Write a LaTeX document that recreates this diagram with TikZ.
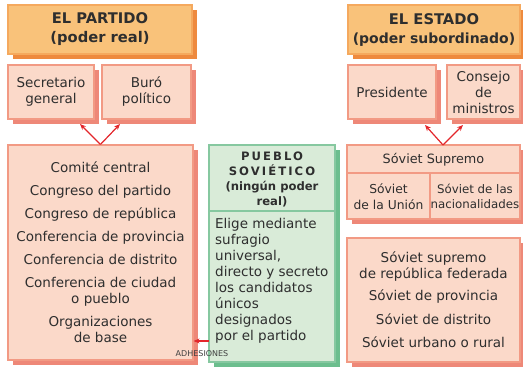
\documentclass[tikz,border=0pt]{standalone}
\usepackage{fontspec}
\setmainfont{DejaVu Sans}
\usepackage{xcolor}
\usetikzlibrary{shadows,arrows.meta}

\definecolor{naranja}{HTML}{F9C27A}
\definecolor{naranjaborde}{HTML}{F5A95E}
\definecolor{naranjasombra}{HTML}{EE8A3E}
\definecolor{rosa}{HTML}{FBD9C9}
\definecolor{rosaborde}{HTML}{F29A84}
\definecolor{rosasombra}{HTML}{EE8878}
\definecolor{verde}{HTML}{D9EBD8}
\definecolor{verdeborde}{HTML}{86C8A0}
\definecolor{verdesombra}{HTML}{6CBE8E}
\definecolor{flecha}{HTML}{E3262B}
\definecolor{texto}{HTML}{2E2E2E}

\begin{document}
\begin{tikzpicture}[x=1pt,y=-1pt]
				\tikzstyle{every node}+=[inner sep=0pt, text=texto]
				\tikzstyle{cabecera}=[draw=naranjaborde, fill=naranja, line width=1.2pt, align=center,
					drop shadow={shadow xshift=5pt, shadow yshift=-5pt, fill=naranjasombra, opacity=1},
					font=\fontsize{14.7}{19}\selectfont\bfseries]
				\tikzstyle{caja}=[draw=rosaborde, fill=rosa, line width=1.2pt, align=center,
					drop shadow={shadow xshift=5pt, shadow yshift=-5pt, fill=rosasombra, opacity=1},
					font=\fontsize{13.5}{16}\selectfont]
				\tikzstyle{cajaverde}=[draw=verdeborde, fill=verde, line width=1.2pt,
					drop shadow={shadow xshift=5pt, shadow yshift=-5pt, fill=verdesombra, opacity=1}]
				\tikzstyle{flechita}=[flecha, line width=1.2pt, -{Stealth[length=6pt,width=5pt]}]
				\useasboundingbox (0,0) rectangle (523,367);
				% cabeceras
				\node [cabecera, minimum width=184, minimum height=49] (partido) at (100,29.5)
					{EL PARTIDO\\(poder real)};
				\node [cabecera, minimum width=172, minimum height=49] (estado) at (434,29.5)
					{EL ESTADO\\{\fontsize{14}{19}\selectfont (poder subordinado)}};
				% partido
				\node [caja, minimum width=86, minimum height=54] (secretario) at (51,92) {Secretario\\general};
				\node [caja, minimum width=89, minimum height=54] (buro) at (146.5,92) {Buró\\político};
				\node [caja, minimum width=185, minimum height=215] (comite) at (100.5,252.5)
					{Comité central\\[7pt] Congreso del partido\\[7pt] Congreso de república\\[7pt]
					 Conferencia de provincia\\[7pt] Conferencia de distrito\\[7pt]
					 Conferencia de ciudad\\o pueblo\\[7pt] Organizaciones\\de base};
				% estado
				\node [caja, minimum width=88, minimum height=54] (presidente) at (392,92) {Presidente};
				\node [caja, minimum width=73, minimum height=54] (consejo) at (483.5,92) {Consejo\\de\\ministros};
				\node [caja, minimum width=173, minimum height=74] (supremo) at (433.5,182) {};
				\draw [rosaborde, line width=1.2pt] (347,173) -- (520,173);
				\draw [rosaborde, line width=1.2pt] (430,173) -- (430,219);
				\node [font=\fontsize{12.8}{15}\selectfont] (supremotxt) at (433.5,159.5) {Sóviet Supremo};
				\node [align=center, font=\fontsize{12.3}{15.5}\selectfont] (union) at (388.5,196.5) {Sóviet\\de la Unión};
				\node [align=center, font=\fontsize{11.8}{15.5}\selectfont] (nacion) at (475,196.5) {Sóviet de las\\nacionalidades};
				\node [caja, minimum width=173, minimum height=124] (soviets) at (433.5,300)
					{Sóviet supremo\\de república federada\\[6pt] Sóviet de provincia\\[8pt]
					 Sóviet de distrito\\[7pt] Sóviet urbano o rural};
				% pueblo
				\node [cajaverde, minimum width=126, minimum height=217] (pueblo) at (272,253.5) {};
				\draw [verdeborde, line width=1.2pt] (209,211) -- (335,211);
				\node [align=center, font=\fontsize{11.6}{15}\selectfont\bfseries] (pueblotxt) at (272,179.5)
					{\addfontfeature{LetterSpace=18}PUEBLO\\\addfontfeature{LetterSpace=18}SOVIÉTICO\\(ningún poder\\real)};
				\node [anchor=north west, align=left, font=\fontsize{13.5}{16}\selectfont] (elige) at (215,218.5)
					{Elige mediante\\sufragio\\universal,\\directo y secreto\\los candidatos\\únicos\\designados\\por el partido};
				% flechas
				\coordinate (punta1) at (80,124);
				\coordinate (punta2) at (120,124);
				\coordinate (punta3) at (425,125);
				\coordinate (punta4) at (463,125);
				\coordinate (adhesion) at (209,341);
				\draw [flechita] (comite.north) -- (punta1);
				\draw [flechita] (comite.north) -- (punta2);
				\draw [flechita] (443,145) -- (punta3);
				\draw [flechita] (443,145) -- (punta4);
				\draw [flechita] (adhesion) -- (comite.east |- adhesion);
				\node [text=black!75, font=\fontsize{8}{9}\selectfont] (adhesiones) at (202,353.5) {ADHESIONES};
\end{tikzpicture}
\end{document}
